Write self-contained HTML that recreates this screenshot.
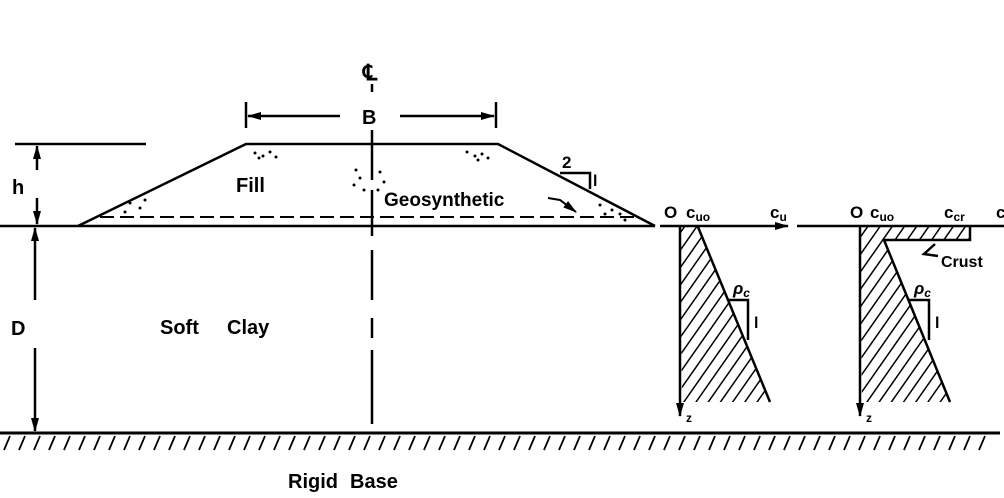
<!DOCTYPE html>
<html><head><style>body{margin:0;background:#fff}svg{display:block}
text{font-family:"Liberation Sans",sans-serif;font-weight:bold;fill:#000}</style></head>
<body>
<svg width="1004" height="498" viewBox="0 0 1004 498">
<defs>
<pattern id="h" width="10" height="10" patternUnits="userSpaceOnUse" patternTransform="rotate(35)">
<line x1="0" y1="0" x2="0" y2="10" stroke="#000" stroke-width="3"/></pattern>
<marker id="a" markerWidth="14" markerHeight="8" refX="13" refY="4" orient="auto-start-reverse" markerUnits="userSpaceOnUse"><path d="M0,0 L14,4 L0,8z"/></marker>
</defs>
<g stroke="#000" stroke-width="2.5" fill="none">
<line x1="0" y1="226" x2="655" y2="226"/>
<polyline points="78,226 246,144 498,144 655,226"/>
<line x1="100" y1="217" x2="640" y2="217" stroke-dasharray="14,6" stroke-width="2"/>
<line x1="372" y1="130" x2="372" y2="180"/>
<line x1="372" y1="190" x2="372" y2="236"/>
<line x1="372" y1="250" x2="372" y2="300"/>
<line x1="372" y1="318" x2="372" y2="338"/>
<line x1="372" y1="350" x2="372" y2="424"/>
<line x1="372" y1="84" x2="372" y2="92"/>
<line x1="246" y1="102" x2="246" y2="128"/>
<line x1="496" y1="102" x2="496" y2="128"/>
<line x1="248" y1="116" x2="340" y2="116" marker-start="url(#a)"/>
<line x1="400" y1="116" x2="494" y2="116" marker-end="url(#a)"/>
<line x1="15" y1="144" x2="146" y2="144"/>
<line x1="37" y1="146" x2="37" y2="170" marker-start="url(#a)"/>
<line x1="37" y1="198" x2="37" y2="224" marker-end="url(#a)"/>
<line x1="35" y1="228" x2="35" y2="300" marker-start="url(#a)"/>
<line x1="35" y1="348" x2="35" y2="431" marker-end="url(#a)"/>
<polyline points="560,173 590,173 590,189"/>
<polyline points="548,198 560,200 576,212" stroke-width="2" marker-end="url(#a)"/>
<line x1="0" y1="433" x2="1000" y2="433" stroke-width="3"/>
</g>
<g stroke="#000" stroke-width="1.8">
<path d="M10,436 l-6,14 M25,436 l-6,14 M40,436 l-6,14 M55,436 l-6,14 M70,436 l-6,14 M85,436 l-6,14 M100,436 l-6,14 M115,436 l-6,14 M130,436 l-6,14 M145,436 l-6,14 M160,436 l-6,14 M175,436 l-6,14 M190,436 l-6,14 M205,436 l-6,14 M220,436 l-6,14 M235,436 l-6,14 M250,436 l-6,14 M265,436 l-6,14 M280,436 l-6,14 M295,436 l-6,14 M310,436 l-6,14 M325,436 l-6,14 M340,436 l-6,14 M355,436 l-6,14 M370,436 l-6,14 M385,436 l-6,14 M400,436 l-6,14 M415,436 l-6,14 M430,436 l-6,14 M445,436 l-6,14 M460,436 l-6,14 M475,436 l-6,14 M490,436 l-6,14 M505,436 l-6,14 M520,436 l-6,14 M535,436 l-6,14 M550,436 l-6,14 M565,436 l-6,14 M580,436 l-6,14 M595,436 l-6,14 M610,436 l-6,14 M625,436 l-6,14 M640,436 l-6,14 M655,436 l-6,14 M670,436 l-6,14 M685,436 l-6,14 M700,436 l-6,14 M715,436 l-6,14 M730,436 l-6,14 M745,436 l-6,14 M760,436 l-6,14 M775,436 l-6,14 M790,436 l-6,14 M805,436 l-6,14 M820,436 l-6,14 M835,436 l-6,14 M850,436 l-6,14 M865,436 l-6,14 M880,436 l-6,14 M895,436 l-6,14 M910,436 l-6,14 M925,436 l-6,14 M940,436 l-6,14 M955,436 l-6,14 M970,436 l-6,14 M985,436 l-6,14"/>
</g>
<g fill="#000">
<circle cx="255" cy="153" r="1.5"/><circle cx="263" cy="156" r="1.5"/><circle cx="270" cy="152" r="1.5"/><circle cx="276" cy="157" r="1.5"/><circle cx="259" cy="158" r="1.5"/>
<circle cx="467" cy="152" r="1.5"/><circle cx="475" cy="156" r="1.5"/><circle cx="482" cy="154" r="1.5"/><circle cx="488" cy="158" r="1.5"/><circle cx="478" cy="160" r="1.5"/>
<circle cx="356" cy="170" r="1.5"/><circle cx="360" cy="178" r="1.5"/><circle cx="354" cy="185" r="1.5"/><circle cx="380" cy="172" r="1.5"/><circle cx="384" cy="182" r="1.5"/><circle cx="378" cy="190" r="1.5"/><circle cx="364" cy="190" r="1.5"/>
<circle cx="130" cy="203" r="1.5"/><circle cx="140" cy="208" r="1.5"/><circle cx="125" cy="212" r="1.5"/><circle cx="145" cy="200" r="1.5"/>
<circle cx="600" cy="205" r="1.5"/><circle cx="612" cy="210" r="1.5"/><circle cx="620" cy="214" r="1.5"/><circle cx="605" cy="214" r="1.5"/><circle cx="625" cy="220" r="1.5"/>
</g>
<polygon points="680,227 698,227 770,402 682,402" fill="url(#h)" stroke="none"/>
<g stroke="#000" stroke-width="2.5" fill="none">
<line x1="660" y1="226" x2="788" y2="226" marker-end="url(#a)"/>
<line x1="680" y1="226" x2="680" y2="416" marker-end="url(#a)"/>
<line x1="698" y1="227" x2="770" y2="402"/>
<polyline points="728,300 748,300 748,340"/>
</g>
<polygon points="860,227 970,227 970,240 884,240 950,402 862,402" fill="url(#h)" stroke="none"/>
<g stroke="#000" stroke-width="2.5" fill="none">
<line x1="797" y1="226" x2="1004" y2="226"/>
<line x1="860" y1="226" x2="860" y2="416" marker-end="url(#a)"/>
<polyline points="970,226 970,240 884,240 950,402"/>
<polyline points="909,300 929,300 929,340"/>
<polyline points="935,244 924,254 938,256"/>
</g>
<text x="363" y="80" font-size="22">℄</text>
<text x="362" y="124" font-size="20">B</text>
<text x="12" y="194" font-size="20">h</text>
<text x="11" y="335" font-size="20">D</text>
<text x="236" y="192" font-size="20">Fill</text>
<text x="384" y="206" font-size="19">Geosynthetic</text>
<text x="562" y="168" font-size="17">2</text>
<text x="593" y="186" font-size="16">l</text>
<text x="160" y="334" font-size="20">Soft</text>
<text x="227" y="334" font-size="20">Clay</text>
<text x="288" y="488" font-size="20">Rigid</text>
<text x="350" y="488" font-size="20">Base</text>
<text x="664" y="218" font-size="17">O</text>
<text x="686" y="218" font-size="17">c<tspan font-size="12" dy="3">uo</tspan></text>
<text x="770" y="218" font-size="17">c<tspan font-size="12" dy="3">u</tspan></text>
<text x="733" y="294" font-size="17" font-style="italic">ρ<tspan font-size="12" dy="3">c</tspan></text>
<text x="754" y="328" font-size="16">l</text>
<text x="686" y="422" font-size="12">z</text>
<text x="850" y="218" font-size="17">O</text>
<text x="870" y="218" font-size="17">c<tspan font-size="12" dy="3">uo</tspan></text>
<text x="944" y="218" font-size="17">c<tspan font-size="12" dy="3">cr</tspan></text>
<text x="996" y="218" font-size="17">c</text>
<text x="941" y="267" font-size="16">Crust</text>
<text x="914" y="294" font-size="17" font-style="italic">ρ<tspan font-size="12" dy="3">c</tspan></text>
<text x="935" y="328" font-size="16">l</text>
<text x="866" y="422" font-size="12">z</text>
</svg>
</body></html>
